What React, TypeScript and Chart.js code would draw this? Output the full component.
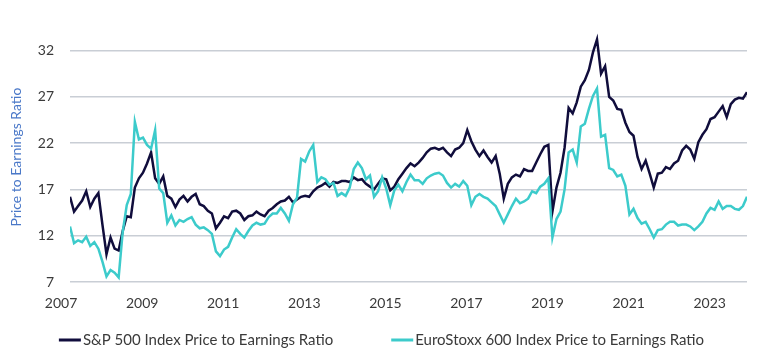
import React, { useEffect, useRef } from 'react';
import { Chart, registerables } from 'chart.js';

Chart.register(...registerables);

const SERIES_NAMES = [
  'S&P 500 Index Price to Earnings Ratio',
  'EuroStoxx 600 Index Price to Earnings Ratio',
];
const SERIES_COLORS = ['#100d3c', '#3ccbcb'];
const YEAR_TICKS = [2007, 2009, 2011, 2013, 2015, 2017, 2019, 2021, 2023];
const Y_TICKS = [7, 12, 17, 22, 27, 32];
const START_YEAR = 2007.22;
const STEP_YEARS = 0.1;

const SP500 = [
  16.2, 14.6, 15.2, 15.8, 16.8, 15.1, 16.0, 16.6, 13.2, 10.0,
  11.8, 10.6, 10.4, 12.5, 14.1, 14.0, 17.2, 18.2, 18.8, 19.8,
  21.0, 18.2, 17.6, 18.4, 16.3, 16.0, 15.1, 15.9, 16.3, 15.7,
  16.2, 16.5, 15.4, 15.2, 14.7, 14.4, 12.8, 13.4, 14.1, 13.9,
  14.6, 14.7, 14.4, 13.7, 14.1, 14.2, 14.6, 14.3, 14.1, 14.7,
  15.0, 15.4, 15.7, 15.8, 16.2, 15.6, 15.9, 16.2, 16.3, 16.2,
  16.8, 17.2, 17.4, 17.7, 17.3, 17.8, 17.7, 17.9, 17.9, 17.8,
  18.3, 18.0, 18.1, 17.6, 17.3, 17.0, 17.6, 18.2, 18.1, 16.9,
  17.3, 18.1, 18.7, 19.3, 19.8, 19.5, 19.9, 20.4, 21.0, 21.4,
  21.5, 21.3, 21.5, 21.0, 20.6, 21.3, 21.5, 22.0, 23.4, 22.2,
  21.3, 20.6, 21.2, 20.5, 19.9, 20.6, 18.7, 16.0, 17.6, 18.3,
  18.6, 18.4, 19.2, 19.0, 19.0, 19.9, 20.8, 21.6, 21.8, 14.6,
  17.2, 18.8, 21.5, 25.8, 25.2, 26.4, 28.1, 28.8, 29.9, 31.8,
  33.2, 29.5, 30.3, 27.0, 26.6, 25.7, 25.6, 24.2, 23.2, 22.8,
  20.5, 19.2, 20.1, 18.7, 17.2, 18.7, 18.8, 19.4, 19.2, 19.8,
  20.1, 21.2, 21.7, 21.3, 20.3, 22.1, 22.9, 23.5, 24.6, 24.8,
  25.4, 26.0, 24.8, 26.2, 26.7, 26.9, 26.8, 27.5,
];

const STOXX600 = [
  13.0, 11.2, 11.5, 11.3, 11.9, 10.9, 11.3, 10.6, 9.2, 7.6,
  8.3, 8.0, 7.5, 12.4, 15.3, 16.5, 24.3, 22.4, 22.6, 21.8,
  21.4, 23.4, 17.1, 16.6, 13.4, 14.2, 13.1, 13.7, 13.5, 13.8,
  14.0, 13.2, 12.8, 12.9, 12.6, 12.2, 10.3, 9.8, 10.5, 10.8,
  11.8, 12.7, 12.2, 11.8, 12.5, 13.1, 13.4, 13.2, 13.3, 14.0,
  14.4, 14.4, 15.0, 14.4, 13.6, 15.4, 16.1, 20.3, 20.0, 21.1,
  21.8, 17.8, 18.3, 18.1, 17.5, 17.7, 16.3, 16.6, 16.3, 17.2,
  19.2, 19.9, 19.3, 18.1, 18.5, 16.2, 16.8, 18.3, 17.1, 15.3,
  16.9, 17.5, 16.8, 17.8, 18.6, 18.0, 18.0, 17.6, 18.2, 18.5,
  18.7, 18.8, 18.5, 17.7, 17.2, 17.6, 17.3, 17.9, 17.4, 15.3,
  16.2, 16.5, 16.2, 16.0, 15.6, 15.2, 14.3, 13.4, 14.3, 15.2,
  16.0, 15.5, 15.7, 16.0, 16.8, 16.6, 17.3, 17.6, 18.2, 11.8,
  13.8, 14.6, 17.0, 21.0, 21.3, 19.9, 23.8, 24.1, 25.7, 27.1,
  27.9, 22.7, 22.9, 19.3, 19.1, 18.4, 18.6, 17.4, 14.3, 14.9,
  13.9, 13.3, 13.5, 12.7, 11.8, 12.6, 12.7, 13.2, 13.5, 13.5,
  13.1, 13.2, 13.2, 13.0, 12.6, 13.0, 13.5, 14.4, 15.0, 14.8,
  15.7, 14.9, 15.2, 15.2, 14.9, 14.8, 15.2, 16.2,
];

const FONT = 'Lato, "Open Sans", sans-serif';

const toPoints = (vals: number[]) =>
  vals.map((v, i) => ({ x: +(START_YEAR + i * STEP_YEARS).toFixed(2), y: v }));

const bottomLegend = {
  id: 'bottomLegend',
  afterDraw(chart: any) {
    const ctx = chart.ctx as CanvasRenderingContext2D;
    ctx.save();
    ctx.font = `15px ${FONT}`;
    const lineW = 22;
    const gapText = 2;
    const gapItems = 58;
    const widths = SERIES_NAMES.map((n) => ctx.measureText(n).width);
    const total =
      widths.reduce((a, w) => a + lineW + gapText + w, 0) + gapItems * (SERIES_NAMES.length - 1);
    let x = chart.width / 2 - total / 2 + 2;
    const y = 340;
    SERIES_NAMES.forEach((name, k) => {
      ctx.strokeStyle = SERIES_COLORS[k];
      ctx.lineWidth = 3;
      ctx.beginPath();
      ctx.moveTo(x, y);
      ctx.lineTo(x + lineW, y);
      ctx.stroke();
      x += lineW + gapText;
      ctx.fillStyle = '#3a3a3a';
      ctx.textBaseline = 'middle';
      ctx.textAlign = 'left';
      ctx.fillText(name, x, y);
      x += widths[k] + gapItems;
    });
    ctx.restore();
  },
};

export default function App() {
  const ref = useRef<HTMLCanvasElement | null>(null);

  useEffect(() => {
    document.body.style.margin = '0';
    const canvas = ref.current;
    if (!canvas) return;
    const lastX = START_YEAR + (SP500.length - 1) * STEP_YEARS;
    const chart = new Chart(canvas, {
      type: 'line',
      data: {
        datasets: [
          {
            label: SERIES_NAMES[0],
            data: toPoints(SP500),
            borderColor: SERIES_COLORS[0],
            backgroundColor: SERIES_COLORS[0],
            borderWidth: 2.5,
            pointRadius: 0,
            tension: 0,
            order: 1,
          },
          {
            label: SERIES_NAMES[1],
            data: toPoints(STOXX600),
            borderColor: SERIES_COLORS[1],
            backgroundColor: SERIES_COLORS[1],
            borderWidth: 2.5,
            pointRadius: 0,
            tension: 0,
            order: 0,
          },
        ],
      },
      options: {
        responsive: false,
        animation: false,
        devicePixelRatio: 1,
        layout: { padding: { top: 32, right: 12, left: 0, bottom: 0 } },
        plugins: {
          legend: { display: false },
          tooltip: { enabled: false },
        },
        scales: {
          x: {
            type: 'linear',
            min: START_YEAR,
            max: lastX,
            grid: { display: false, drawTicks: false },
            border: { display: false },
            afterBuildTicks: (scale: any) => {
              scale.ticks = YEAR_TICKS.map((v) => ({ value: v }));
            },
            afterFit: (scale: any) => {
              scale.height = 75;
            },
            ticks: {
              autoSkip: false,
              maxRotation: 0,
              minRotation: 0,
              padding: 13,
              color: '#3a3a3a',
              font: { family: FONT, size: 14 },
              callback: (v: any) => String(v),
            },
          },
          y: {
            min: 7,
            max: 34,
            afterBuildTicks: (scale: any) => {
              scale.ticks = Y_TICKS.map((v) => ({ value: v }));
            },
            afterFit: (scale: any) => {
              scale.width = 70;
            },
            grid: { color: '#c9ced5', lineWidth: 1.5, drawTicks: false },
            border: { display: false },
            ticks: {
              padding: 16,
              color: '#3a3a3a',
              font: { family: FONT, size: 14 },
              callback: (v: any) => String(v),
            },
            title: {
              display: true,
              text: 'Price to Earnings Ratio',
              color: '#4a78c8',
              font: { family: FONT, size: 14 },
              padding: { top: 8, bottom: 0 },
            },
          },
        },
      },
      plugins: [bottomLegend],
    });
    return () => chart.destroy();
  }, []);

  return (
    <div style={{ width: 759, height: 357 }}>
      <canvas ref={ref} width={759} height={357} style={{ display: 'block' }} />
    </div>
  );
}
